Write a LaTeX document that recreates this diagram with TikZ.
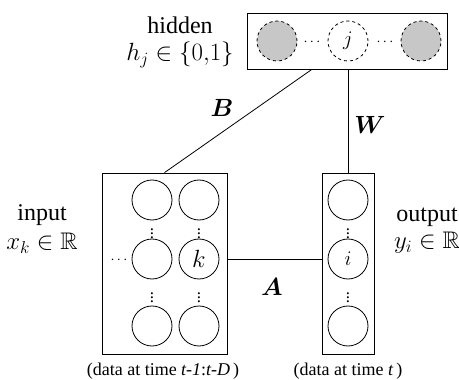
\documentclass[tikz,border=0pt]{standalone}
\usepackage{amssymb}
\usepackage{bm}
\usepackage{fontspec}
\setmainfont{Liberation Serif}
\usetikzlibrary{positioning, calc}

\begin{document}
\begin{tikzpicture}[x=1pt, y=-1pt, line width=0.8pt,
    unit/.style={circle, draw, minimum size=40pt, inner sep=0pt},
    hunit/.style={unit, dashed, fill=black!22},
    layer/.style={draw, inner sep=0pt},
    hdots/.style={inner sep=0pt, font=\fontsize{14}{14}\selectfont},
    vdots/.style={inner sep=0pt, font=\fontsize{17}{17}\selectfont},
    lbl/.style={font=\fontsize{24}{24}\selectfont},
    captext/.style={font=\fontsize{18}{18}\selectfont}]
    \useasboundingbox (0,0) rectangle (459,380);

    % layers
    \node[layer, minimum width=200pt, minimum height=56pt] (hbox) at (347,41) {};
    \node[layer, minimum width=125pt, minimum height=181pt] (inbox) at (164.5,263.5) {};
    \node[layer, minimum width=52pt, minimum height=181pt] (outbox) at (348,263.5) {};

    % hidden units
    \node[hunit] (h1) at (277,41) {};
    \node[unit, dashed, font=\fontsize{22}{22}\selectfont] (hj) at (348,41) {$j$};
    \node[hunit] (h2) at (421,41) {};

    % input units, two columns
    \foreach \x/\y/\name in {
        152/200/x11, 199/200/x21,
        152/259/x12,
        152/326/x13, 199/326/x23
    }{
        \node[unit] (\name) at (\x,\y) {};
    }
    \node[unit, font=\fontsize{26}{26}\selectfont] (k) at (199,259) {$k$};

    % output units
    \node[unit] (y1) at (348,200) {};
    \node[unit, font=\fontsize{20}{20}\selectfont] (i) at (348,259) {$i$};
    \node[unit] (y3) at (348,326) {};

    % dots
    \foreach \x/\y in {312/42, 385/42, 119/260}{
        \node[hdots] at (\x,\y) {$\cdots$};
    }
    \foreach \x/\y in {152/231, 199/231, 152/295, 199/295, 348/231, 348/295}{
        \node[vdots] at (\x,\y) {$\vdots$};
    }

    % connections
    \draw (inbox.north) -- ($(hbox.south west)!.325!(hbox.south east)$);
    \draw (outbox.north |- hbox.south) -- (outbox.north);
    \draw (inbox.east |- k) -- (outbox.west |- k);

    \node[lbl] (lB) at (222,108) {$\bm{B}$};
    \node[lbl] (lW) at (370,125) {$\bm{W}$};
    \node[lbl] (lA) at (272,287) {$\bm{A}$};

    % layer labels
    \node[lbl] (thid) at (180,25) {hidden};
    \node[lbl] (mhid) at (180,55) {$h_j \in \{0{,}1\}$};
    \node[lbl] (tin) at (42,215) {input};
    \node[lbl] (min) at (42,243) {$x_k \in \mathbb{R}$};
    \node[lbl] (tout) at (427,217) {output};
    \node[lbl] (mout) at (427,243) {$y_i \in \mathbb{R}$};

    \node[captext] (cin) at (163,371) {(data at time \textit{t-1}:\textit{t-D}\,)};
    \node[captext] (cout) at (348,371) {(data at time \textit{t}\,)};
\end{tikzpicture}
\end{document}
